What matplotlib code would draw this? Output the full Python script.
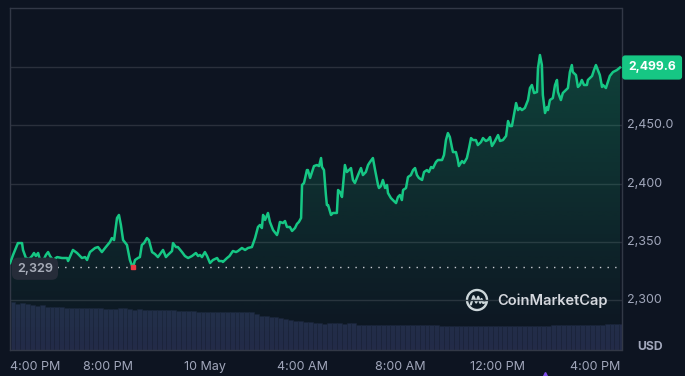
import numpy as np
import matplotlib
matplotlib.use("Agg")
import matplotlib.pyplot as plt
import matplotlib.transforms as mtransforms
from matplotlib.patches import Polygon, Circle

plt.rcParams['font.family'] = ['Inter', 'DejaVu Sans']

# hours since 4:00 PM (9 May)
times = [-0.02, 0.10, 0.22, 0.30, 0.47, 0.51, 0.63, 0.76, 0.88, 0.96, 1.04, 1.13, 1.21, 1.33, 1.45,
         1.54, 1.62, 1.74, 1.91, 2.11, 2.32, 2.36, 2.56, 2.73, 2.93, 3.06, 3.14, 3.26, 3.47, 3.59,
         3.75, 3.88, 4.08, 4.16, 4.25, 4.37, 4.45, 4.53, 4.62, 4.78, 4.86, 4.90, 4.99, 5.03, 5.11,
         5.23, 5.31, 5.39, 5.48, 5.60, 5.68, 5.81, 5.93, 6.05, 6.14, 6.26, 6.38, 6.46, 6.63, 6.67,
         6.79, 6.87, 7.04, 7.16, 7.29, 7.45, 7.61, 7.70, 7.78, 7.86, 7.98, 8.07, 8.19, 8.31, 8.48,
         8.56, 8.68, 8.72, 8.89, 8.99, 9.13, 9.26, 9.34, 9.50, 9.63, 9.75, 9.91, 10.04, 10.16, 10.24,
         10.32, 10.37, 10.45, 10.57, 10.65, 10.78, 10.94, 10.98, 11.06, 11.19, 11.27, 11.35, 11.47, 11.56, 11.68,
         11.76, 11.84, 11.93, 11.97, 12.05, 12.17, 12.21, 12.30, 12.38, 12.46, 12.58, 12.67, 12.75, 12.79, 12.87,
         12.95, 12.99, 13.04, 13.16, 13.24, 13.40, 13.45, 13.53, 13.61, 13.73, 13.81, 13.90, 13.98, 14.06, 14.14,
         14.27, 14.39, 14.47, 14.59, 14.68, 14.76, 14.88, 14.97, 15.09, 15.13, 15.21, 15.29, 15.38, 15.46, 15.50,
         15.62, 15.70, 15.83, 15.91, 15.99, 16.07, 16.12, 16.24, 16.32, 16.44, 16.53, 16.61, 16.69, 16.77, 16.90,
         16.98, 17.10, 17.18, 17.27, 17.35, 17.47, 17.55, 17.72, 17.80, 17.88, 17.96, 18.04, 18.13, 18.17, 18.29,
         18.37, 18.41, 18.54, 18.62, 18.74, 18.83, 18.91, 18.99, 19.11, 19.19, 19.32, 19.40, 19.52, 19.60, 19.69,
         19.77, 19.85, 20.02, 20.10, 20.22, 20.35, 20.43, 20.51, 20.59, 20.67, 20.76, 20.84, 20.92, 21.00, 21.12,
         21.25, 21.33, 21.41, 21.50, 21.62, 21.66, 21.74, 21.82, 21.86, 21.95, 22.03, 22.07, 22.15, 22.27, 22.36,
         22.44, 22.48, 22.60, 22.68, 22.81, 22.89, 22.97, 23.05, 23.09, 23.22, 23.30, 23.38, 23.46, 23.55, 23.67,
         23.71, 23.88, 23.96, 24.04, 24.12, 24.20, 24.29, 24.33, 24.45, 24.53, 24.61, 24.74, 24.90, 25.03]

prices = [2332.0, 2338.9, 2344.9, 2349.1, 2349.1, 2343.2, 2336.3, 2335.4, 2338.0, 2340.6, 2338.0, 2340.6, 2334.6, 2333.7, 2338.9,
          2341.4, 2338.0, 2334.6, 2337.1, 2336.3, 2336.3, 2333.7, 2343.2, 2340.6, 2336.3, 2337.1, 2334.6, 2341.4, 2344.9, 2345.7,
          2341.4, 2344.9, 2350.0, 2353.4, 2351.7, 2370.6, 2373.2, 2364.6, 2351.7, 2347.5, 2338.9, 2334.6, 2329.5, 2328.6, 2334.6,
          2336.3, 2337.1, 2347.5, 2349.1, 2353.4, 2351.7, 2341.4, 2339.7, 2337.1, 2339.7, 2343.2, 2337.1, 2338.9, 2342.3, 2349.1,
          2345.7, 2345.7, 2341.4, 2338.0, 2336.3, 2338.0, 2340.6, 2338.0, 2338.9, 2337.1, 2341.4, 2338.0, 2332.0, 2334.6, 2336.3,
          2333.7, 2333.7, 2332.9, 2336.3, 2338.0, 2342.3, 2341.4, 2342.3, 2344.9, 2343.2, 2344.9, 2345.7, 2353.4, 2362.9, 2364.6,
          2362.0, 2373.2, 2368.9, 2374.9, 2367.2, 2360.3, 2356.0, 2358.6, 2367.2, 2366.3, 2368.0, 2362.9, 2362.9, 2359.5, 2362.0,
          2365.5, 2367.2, 2370.6, 2398.9, 2400.6, 2411.7, 2411.7, 2404.9, 2410.0, 2415.1, 2416.0, 2415.1, 2422.0, 2414.3, 2411.7,
          2390.3, 2381.7, 2381.7, 2373.2, 2374.9, 2374.9, 2394.6, 2392.9, 2388.6, 2416.0, 2410.0, 2411.7, 2413.4, 2403.2, 2400.6,
          2407.4, 2413.4, 2407.4, 2410.0, 2416.0, 2418.6, 2422.0, 2411.7, 2398.9, 2396.3, 2398.0, 2403.2, 2396.3, 2398.9, 2392.0,
          2387.7, 2386.0, 2383.4, 2388.6, 2390.3, 2386.0, 2394.6, 2396.3, 2405.7, 2407.4, 2411.7, 2413.4, 2407.4, 2404.9, 2403.2,
          2410.0, 2411.7, 2410.0, 2414.3, 2413.4, 2418.6, 2420.3, 2420.3, 2424.6, 2437.4, 2443.4, 2440.0, 2430.6, 2427.1, 2427.1,
          2420.3, 2415.1, 2419.4, 2417.7, 2422.0, 2430.6, 2439.1, 2437.4, 2437.4, 2433.1, 2435.7, 2439.1, 2436.6, 2437.4, 2440.0,
          2432.3, 2434.9, 2441.7, 2436.6, 2437.4, 2440.9, 2453.7, 2449.4, 2449.4, 2458.9, 2469.1, 2463.1, 2464.9, 2463.1, 2464.9,
          2471.7, 2482.0, 2484.6, 2477.7, 2478.6, 2499.1, 2510.3, 2501.7, 2476.0, 2460.6, 2465.7, 2463.1, 2471.7, 2473.4, 2484.6,
          2488.9, 2478.6, 2471.7, 2477.7, 2480.3, 2482.0, 2495.7, 2501.7, 2495.7, 2493.1, 2482.9, 2484.6, 2488.9, 2484.6, 2484.6,
          2488.9, 2492.3, 2497.4, 2501.7, 2497.4, 2493.1, 2482.9, 2484.6, 2482.0, 2487.1, 2492.3, 2495.7, 2497.4, 2499.6]

# 24h volume (bn), one bar every 12 minutes from 4:00 PM
vol_step = 0.2
volumes = [9.6, 9.2, 9.4, 9.3, 9.1, 8.9, 9.0, 8.7, 8.7, 8.6,
           8.6, 8.5, 8.4, 8.4, 8.4, 8.5, 8.4, 8.4, 8.4, 8.3,
           8.3, 8.3, 8.4, 8.4, 8.3, 8.1, 8.2, 8.0, 8.1, 8.1,
           8.1, 8.1, 8.0, 8.0, 7.8, 7.9, 7.8, 7.8, 7.7, 7.6,
           7.6, 7.6, 7.6, 7.6, 7.6, 7.6, 7.6, 7.6, 7.6, 7.6,
           7.2, 6.9, 6.8, 6.6, 6.7, 6.5, 6.2, 6.0, 5.8, 5.8,
           5.7, 5.6, 5.5, 5.4, 5.3, 5.4, 5.4, 5.4, 5.3, 5.4,
           5.4, 5.1, 5.0, 5.0, 5.1, 5.0, 5.0, 5.0, 5.1, 5.0,
           5.0, 5.0, 5.0, 5.0, 5.0, 5.0, 5.0, 5.0, 4.9, 4.8,
           4.8, 4.9, 4.9, 4.9, 4.9, 4.9, 4.9, 4.9, 4.9, 4.9,
           4.9, 4.9, 4.9, 4.9, 4.9, 4.9, 4.9, 4.9, 4.9, 4.9,
           4.8, 5.0, 5.0, 5.0, 5.0, 5.0, 5.0, 5.0, 5.0, 5.0,
           5.0, 5.0, 5.2, 5.2, 5.2, 5.2]

y_ticks = [2300, 2350, 2400, 2450]
y_tick_labels = ['2,300', '2,350', '2,400', '2,450.0']
grid_levels = [2300, 2350, 2400, 2450, 2500]
x_ticks = [0, 4, 8, 12, 16, 20, 24]
x_tick_labels = ['4:00 PM', '8:00 PM', '10 May', '4:00 AM', '8:00 AM', '12:00 PM', '4:00 PM']
last_label = '2,499.6'
low_label = '2,329'

BG = '#0d1421'
GREEN = '#16c784'
GRID = '#2a303c'
TXT = '#a1a7bb'

fig = plt.figure(figsize=(6.85, 3.76), dpi=100, facecolor=BG)
ax = fig.add_axes([9.5 / 685, 26 / 376, 612 / 685, 342 / 376])
ax2 = ax.twinx()
ax.set_zorder(ax2.get_zorder() + 1)
ax.patch.set_visible(False)
ax2.patch.set_facecolor(BG)

xmin, xmax = -0.045, 25.09
ymin, ymax = 2257.45, 2550.6
ax.set_xlim(xmin, xmax)
ax.set_ylim(ymin, ymax)
ax2.set_ylim(0, 68.4)

# volume bars
vt = np.arange(len(volumes)) * vol_step
ax2.bar(vt, volumes, width=vol_step, align='edge', color='#232b48',
        edgecolor='#1b2238', linewidth=0.4)

# grid
for g in grid_levels:
    ax.axhline(g, color=GRID, lw=1, zorder=1)

# gradient fill under the price line
verts = list(zip(times, prices)) + [(times[-1], ymin), (times[0], ymin)]
poly = Polygon(verts, closed=True, facecolor='none', edgecolor='none')
ax.add_patch(poly)
grad = np.zeros((256, 1, 4))
grad[:, 0, 0] = 22 / 255
grad[:, 0, 1] = 199 / 255
grad[:, 0, 2] = 132 / 255
grad[:, 0, 3] = np.linspace(0.0, 0.30, 256)
im = ax.imshow(grad, extent=[xmin, xmax, ymin, ymax], origin='lower', aspect='auto', zorder=2)
im.set_clip_path(poly)

# price line
ax.plot(times, prices, color=GREEN, lw=1.8, zorder=4, solid_joinstyle='round')

# low marker + dotted reference
i_low = int(np.argmin(prices))
ax.axhline(prices[i_low], xmin=0.078, xmax=1, color='#c9ccd3', lw=1.0,
           linestyle=(0, (1, 4.5)), zorder=3)
ax.plot(times[i_low], prices[i_low], marker='s', ms=2.5, color='#ea3943', zorder=5)
ax.text(1.0, prices[i_low] - 1.5, low_label, ha='center', va='center', fontsize=9.2,
        color='#a8adb9', fontweight='semibold', zorder=6,
        bbox=dict(boxstyle='round,pad=0.4,rounding_size=0.5', fc='#262c39', ec='none'))

# spines
for s in ax.spines.values():
    s.set_color('#323846')
    s.set_linewidth(1)
for s in ax2.spines.values():
    s.set_visible(False)
ax.tick_params(left=False, right=False, bottom=False, top=False,
               labelleft=False, labelbottom=False)
ax2.tick_params(left=False, right=False, labelright=False)

# right axis labels
ytrans = mtransforms.blended_transform_factory(ax.transAxes, ax.transData)
for v, lab in zip(y_ticks, y_tick_labels):
    ax.text(1.009, v, lab, transform=ytrans, ha='left', va='center',
            fontsize=9, color=TXT, clip_on=False)
ax.text(1.011, prices[-1], last_label, transform=ytrans, ha='left', va='center',
        fontsize=8.8, color='white', fontweight='bold', clip_on=False, zorder=7,
        bbox=dict(boxstyle='round,pad=0.5,rounding_size=0.25', fc=GREEN, ec='none'))
ax.text(1.025, 0.009, 'USD', transform=ax.transAxes, ha='left', va='center',
        fontsize=8.8, color=TXT, fontweight='bold', clip_on=False)

# bottom axis labels
xtrans = mtransforms.blended_transform_factory(ax.transData, ax.transAxes)
for i, (t, lab) in enumerate(zip(x_ticks, x_tick_labels)):
    ha = 'left' if i == 0 else 'center'
    tx = t - 0.03 if i == 0 else t
    ax.text(tx, -0.05, lab, transform=xtrans, ha=ha, va='center',
            fontsize=9, color=TXT, clip_on=False)

# small purple marker at the bottom edge
ax.plot([21.95], [-0.075], transform=xtrans, marker='^', ms=6, color='#7d4ce8',
        clip_on=False, zorder=8)

# CoinMarketCap watermark
fig.text(497 / 685, 1 - 301 / 376, 'CoinMarketCap', ha='left', va='center',
         fontsize=10.5, color='#d5d8de', fontweight='semibold')
lax = fig.add_axes([465 / 685, 1 - 312 / 376, 24 / 685, 24 / 376])
lax.set_xlim(-1.2, 1.2)
lax.set_ylim(-1.2, 1.2)
lax.axis('off')
lax.add_patch(Circle((0, 0), 1.0, fill=False, ec='#d5d8de', lw=1.7))
lax.plot([-0.62, -0.35, -0.08, 0.12, 0.32, 0.45, 0.62, 0.85],
         [-0.45, 0.38, -0.25, 0.32, -0.28, 0.10, -0.30, -0.22],
         color='#d5d8de', lw=1.6, solid_capstyle='round', solid_joinstyle='round')

fig.savefig('out.png', dpi=100, facecolor=BG)
